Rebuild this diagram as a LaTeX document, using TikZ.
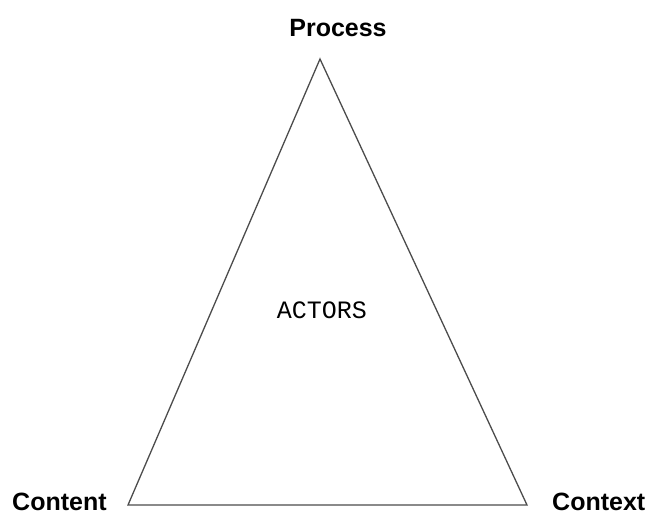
\documentclass[tikz,border=0pt]{standalone}
\usepackage{fontspec}
\setmainfont{Liberation Sans}
\newfontfamily\actorsfont{Liberation Mono}
\begin{document}
\begin{tikzpicture}[x=1pt,y=-1pt,
  corner/.style={font=\bfseries\fontsize{25}{28}\selectfont, inner sep=0pt},
  edge/.style={draw=black!70, line width=1.3pt, line join=miter}]
  \useasboundingbox (0,0) rectangle (650,514);
  % triangle vertices
  \coordinate (top) at (320,59);
  \coordinate (bl) at (128,505);
  \coordinate (br) at (527,505);
  \draw[edge] (top) -- (br) -- (bl) -- cycle;
  % labels
  \node[corner, anchor=base] (process) at (338,36) {Process};
  \node[corner, anchor=base west] (content) at (12,510) {Content};
  \node[corner, anchor=base west] (context) at (552,510) {Context};
  \node[inner sep=0pt, anchor=base, font=\actorsfont\fontsize{25}{28}\selectfont] (actors) at (322,318) {ACTORS};
\end{tikzpicture}
\end{document}
